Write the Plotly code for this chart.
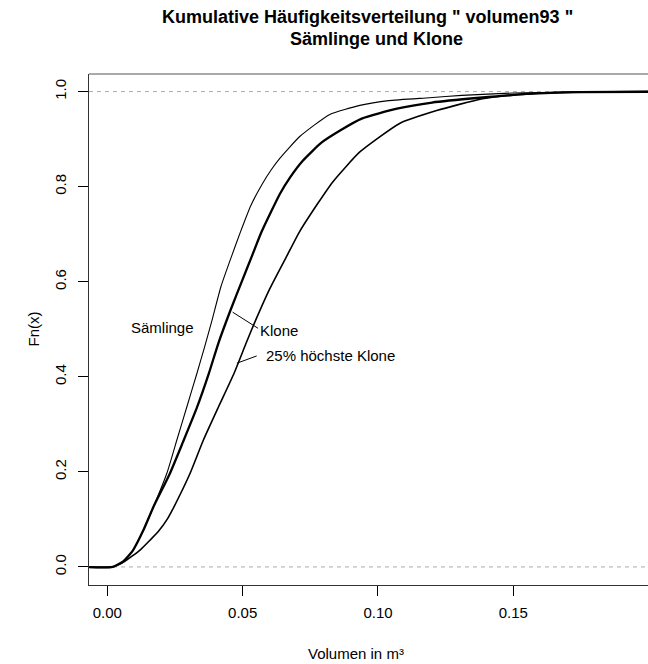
import plotly.graph_objects as go

# Empirical cumulative distributions of the 1993 stem volume (m³)
saemlinge_x = [-0.01, 0.002, 0.006, 0.0095, 0.0134, 0.0171, 0.022, 0.0257, 0.0294, 0.0331,
               0.0358, 0.0385, 0.042, 0.046, 0.0492, 0.053, 0.0572, 0.0605, 0.0638, 0.0712,
               0.0822, 0.0933, 0.104, 0.119, 0.131, 0.15, 0.17, 0.21]
saemlinge_f = [0.0, 0.0, 0.012, 0.035, 0.078, 0.127, 0.197, 0.267, 0.337, 0.407,
               0.46, 0.515, 0.59, 0.655, 0.705, 0.76, 0.805, 0.835, 0.86, 0.906,
               0.952, 0.971, 0.981, 0.987, 0.992, 0.997, 0.999, 1.0]

klone_x = [-0.01, 0.002, 0.006, 0.0095, 0.0134, 0.0171, 0.023, 0.0279, 0.0331, 0.0374,
           0.041, 0.0455, 0.050, 0.0535, 0.057, 0.0638, 0.0676, 0.0723, 0.079, 0.086,
           0.094, 0.107, 0.12, 0.1375, 0.155, 0.175, 0.21]
klone_f = [0.0, 0.0, 0.012, 0.035, 0.078, 0.127, 0.195, 0.262, 0.335, 0.405,
           0.47, 0.54, 0.605, 0.655, 0.705, 0.785, 0.82, 0.855, 0.892, 0.918,
           0.943, 0.964, 0.977, 0.987, 0.995, 0.999, 1.0]

top25_x = [-0.01, 0.002, 0.006, 0.0122, 0.0159, 0.0189, 0.0221, 0.0245, 0.0306, 0.0355,
           0.0411, 0.0468, 0.0513, 0.0545, 0.060, 0.0664, 0.071, 0.0778, 0.0833, 0.0933,
           0.108, 0.1217, 0.1386, 0.156, 0.175, 0.21]
top25_f = [0.0, 0.0, 0.01, 0.036, 0.057, 0.075, 0.10, 0.125, 0.197, 0.267,
           0.337, 0.407, 0.471, 0.515, 0.585, 0.655, 0.705, 0.765, 0.81, 0.873,
           0.933, 0.96, 0.985, 0.995, 0.999, 1.0]

x_ticks = [0.0, 0.05, 0.10, 0.15]
y_ticks = [0.0, 0.2, 0.4, 0.6, 0.8, 1.0]

title_lines = ['Kumulative Häufigkeitsverteilung " volumen93 "', 'Sämlinge und Klone']
x_title = 'Volumen in m³'
y_title = 'Fn(x)'

# curve labels: (text, x, y, anchor) and leader lines (x0, y0, x1, y1)
curve_labels = [
    ('Sämlinge', 0.0203, 0.504, 'center'),
    ('Klone', 0.0556, 0.497, 'left'),
    ('25% höchste Klone', 0.0578, 0.445, 'left'),
]
leader_lines = [
    (0.0463, 0.536, 0.0557, 0.502),
    (0.0479, 0.4286, 0.0552, 0.4439),
]

FONT = 'Liberation Sans, Arial, sans-serif'
INK = 'black'

fig = go.Figure()

series = [
    (saemlinge_x, saemlinge_f, 1.1, 'Sämlinge'),
    (top25_x, top25_f, 1.6, '25% höchste Klone'),
    (klone_x, klone_f, 2.3, 'Klone'),
]
for xs, fs, w, name in series:
    fig.add_trace(go.Scatter(x=xs, y=fs, mode='lines', name=name,
                             line=dict(color=INK, width=w, shape='spline', smoothing=0.5),
                             showlegend=False, hoverinfo='skip'))

shapes = []
# reference lines at 0 and 1
for level in (0.0, 1.0):
    shapes.append(dict(type='line', xref='paper', yref='y', x0=0, x1=1, y0=level, y1=level,
                       line=dict(color='#aaaaaa', width=1, dash='4px,4px'), layer='below'))
# upper frame edge
shapes.append(dict(type='line', xref='paper', yref='paper', x0=0, x1=1, y0=1, y1=1,
                   line=dict(color='#555555', width=1)))
for x0, y0, x1, y1 in leader_lines:
    shapes.append(dict(type='line', xref='x', yref='y', x0=x0, y0=y0, x1=x1, y1=y1,
                       line=dict(color=INK, width=1)))

annotations = []
for text, x, y, anchor in curve_labels:
    annotations.append(dict(text=text, x=x, y=y, xref='x', yref='y', showarrow=False,
                            xanchor=anchor, yanchor='middle',
                            font=dict(family=FONT, size=15, color=INK)))

# title, two centred lines
W, H = 648, 664
L, R, T, B = 89, 0, 74, 79
pw, ph = W - L - R, H - T - B

def px_to_paper(px, py):
    return (px - L) / pw, (H - B - py) / ph

for line, (cx, cy) in zip(title_lines, [(367.5, 17), (376, 39)]):
    ax, ay = px_to_paper(cx, cy)
    annotations.append(dict(text='<b>' + line + '</b>', x=ax, y=ay, xref='paper', yref='paper',
                            showarrow=False, xanchor='center', yanchor='middle',
                            font=dict(family=FONT, size=18, color=INK)))

ax, ay = px_to_paper(356, 653)
annotations.append(dict(text=x_title, x=ax, y=ay, xref='paper', yref='paper', showarrow=False,
                        xanchor='center', yanchor='middle',
                        font=dict(family=FONT, size=15, color=INK)))
ax, ay = px_to_paper(33, 329.5)
annotations.append(dict(text=y_title, x=ax, y=ay, xref='paper', yref='paper', showarrow=False,
                        xanchor='center', yanchor='middle', textangle=-90,
                        font=dict(family=FONT, size=15, color=INK)))

fig.update_layout(
    width=W, height=H,
    margin=dict(l=L, r=R, t=T, b=B, pad=0),
    paper_bgcolor='white', plot_bgcolor='white',
    font=dict(family=FONT, size=15, color=INK),
    shapes=shapes, annotations=annotations,
    xaxis=dict(range=[-0.00676, 0.19976], tickvals=x_ticks, tickformat='.2f',
               showgrid=False, zeroline=False, showline=True, linecolor='#333333', linewidth=1,
               ticks='outside', ticklen=10, tickcolor=INK, tickwidth=1,
               ticklabelstandoff=4, tickfont=dict(family=FONT, size=15, color=INK)),
    yaxis=dict(range=[-0.038, 1.037], tickvals=y_ticks, tickformat='.1f',
               showgrid=False, zeroline=False, showline=True, linecolor='#333333', linewidth=1,
               ticks='outside', ticklen=10, tickcolor=INK, tickwidth=1, tickangle=-90,
               ticklabelstandoff=6, tickfont=dict(family=FONT, size=15, color=INK)),
)

fig.write_html('out.html')
